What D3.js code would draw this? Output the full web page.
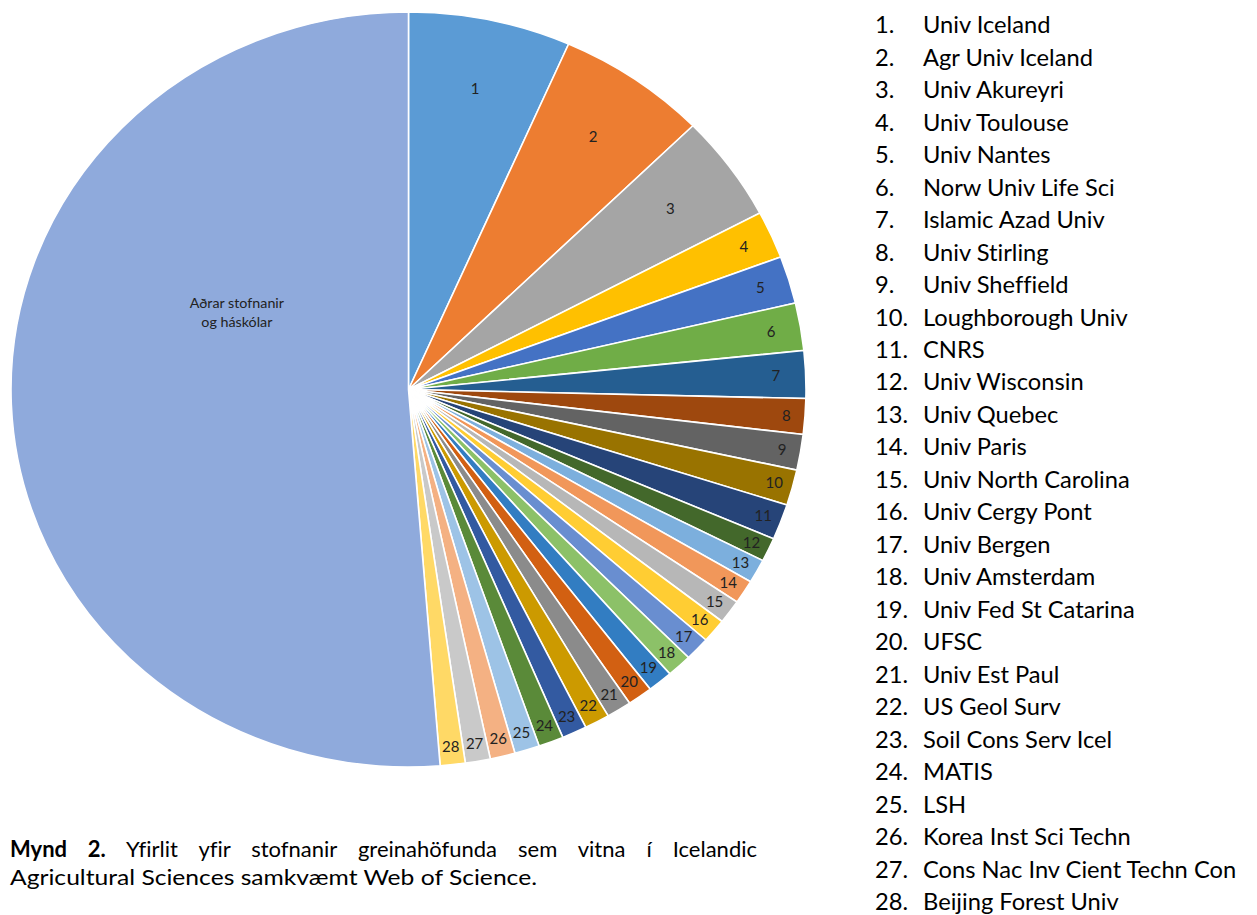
<!DOCTYPE html>
<html><head><meta charset="utf-8">
<script src="https://cdn.jsdelivr.net/npm/d3@7"></script>
<style>body{margin:0;background:#fff} svg{display:block} text{font-variant-ligatures:none}</style>
</head><body>
<svg id="c" width="1257" height="915"></svg>
<script>
const categories = ["Univ Iceland","Agr Univ Iceland","Univ Akureyri","Univ Toulouse","Univ Nantes",
  "Norw Univ Life Sci","Islamic Azad Univ","Univ Stirling","Univ Sheffield","Loughborough Univ",
  "CNRS","Univ Wisconsin","Univ Quebec","Univ Paris","Univ North Carolina","Univ Cergy Pont",
  "Univ Bergen","Univ Amsterdam","Univ Fed St Catarina","UFSC","Univ Est Paul","US Geol Surv",
  "Soil Cons Serv Icel","MATIS","LSH","Korea Inst Sci Techn","Cons Nac Inv Cient Techn Con",
  "Beijing Forest Univ"];
const values = [13,12,9,4,4,4,4,3,3,3,3,2,2,2,2,2,2,2,2,2,2,2,2,2,2,2,2,2];
const otherLines = ["Aðrar stofnanir","og háskólar"];
const otherValue = 101;
const colors = ["#5B9BD5","#ED7D31","#A5A5A5","#FFC000","#4472C4","#70AD47",
  "#255E91","#9E480E","#636363","#997300","#264478","#43682B",
  "#7CAFDD","#F1975A","#B7B7B7","#FFCD33","#698ED0","#8CC168",
  "#327DC2","#D26012","#8B8B8B","#CC9A00","#335AA1","#5A8A39",
  "#9DC3E6","#F4B183","#C9C9C9","#FFD966","#8FAADC"];
const captionBold = "Mynd 2.";
const captionLine1 = "Yfirlit yfir stofnanir greinahöfunda sem vitna í Icelandic";
const captionLine2 = "Agricultural Sciences samkvæmt Web of Science.";

const svg = d3.select("#c");
const FONT = "Lato, 'Open Sans', sans-serif";
const cx = 408.5, cy = 389.5, R = 377.5, sx = 397.5 / 377.5;

const slices = categories.map((c, i) => ({name: c, label: String(i + 1), value: values[i], other: false}))
  .concat([{name: otherLines.join(" "), lines: otherLines, value: otherValue, other: true}]);

const pie = d3.pie().value(d => d.value).sort(null);
const arcs = pie(slices);
const arc = d3.arc().innerRadius(0).outerRadius(R);

const g = svg.append("g").attr("transform", `translate(${cx},${cy}) scale(${sx},1)`);
g.selectAll("path").data(arcs).join("path")
  .attr("d", arc)
  .attr("fill", (d, i) => colors[i])
  .attr("stroke", "#fff")
  .attr("stroke-width", 1.6)
  .attr("vector-effect", "non-scaling-stroke");

function labelPos(d) {
  let a, f;
  if (d.data.other) { a = d.startAngle + 0.65 * (d.endAngle - d.startAngle); f = 0.478; }
  else {
    a = (d.startAngle + d.endAngle) / 2;
    const v = d.data.value;
    f = v >= 9 ? 0.815 : v >= 4 ? 0.925 : 0.953;
  }
  const r = f * R;
  return [cx + sx * r * Math.sin(a), cy - r * Math.cos(a)];
}

const lab = svg.append("g").attr("font-family", FONT).attr("fill", "#222");
arcs.forEach(d => {
  const [x, y] = labelPos(d);
  if (d.data.other) {
    const t = lab.append("text").attr("x", x).attr("y", y).attr("text-anchor", "middle").attr("font-size", 14.3);
    d.data.lines.forEach((l, k) => {
      t.append("tspan").attr("x", x).attr("y", y + (k - 0.5) * 19).attr("dy", "0.35em").text(l);
    });
  } else {
    lab.append("text").attr("x", x).attr("y", y).attr("dy", "0.35em")
      .attr("text-anchor", "middle").attr("font-size", 15).text(d.data.label);
  }
});

// legend list
const leg = svg.append("g").attr("font-family", FONT).attr("font-size", 23.7).attr("fill", "#000");
categories.forEach((c, i) => {
  const y = 33.3 + i * 32.47;
  leg.append("text").attr("x", 875).attr("y", y).text(`${i + 1}.`);
  leg.append("text").attr("x", 923).attr("y", y).text(c);
});

// caption
const cap = svg.append("g").attr("font-family", FONT).attr("font-size", 22).attr("fill", "#000");
const t1 = cap.append("text").attr("x", 10).attr("y", 857);
t1.append("tspan").attr("font-weight", "bold").text(captionBold);
t1.append("tspan").text(" " + captionLine1);
const nat = t1.node().getComputedTextLength();
const spaces = (captionBold + " " + captionLine1).split(" ").length - 1;
t1.attr("word-spacing", (747 - nat) / spaces);
cap.append("text").attr("x", 10).attr("y", 885).attr("textLength", 527)
  .attr("lengthAdjust", "spacingAndGlyphs").text(captionLine2);
</script>
</body></html>
